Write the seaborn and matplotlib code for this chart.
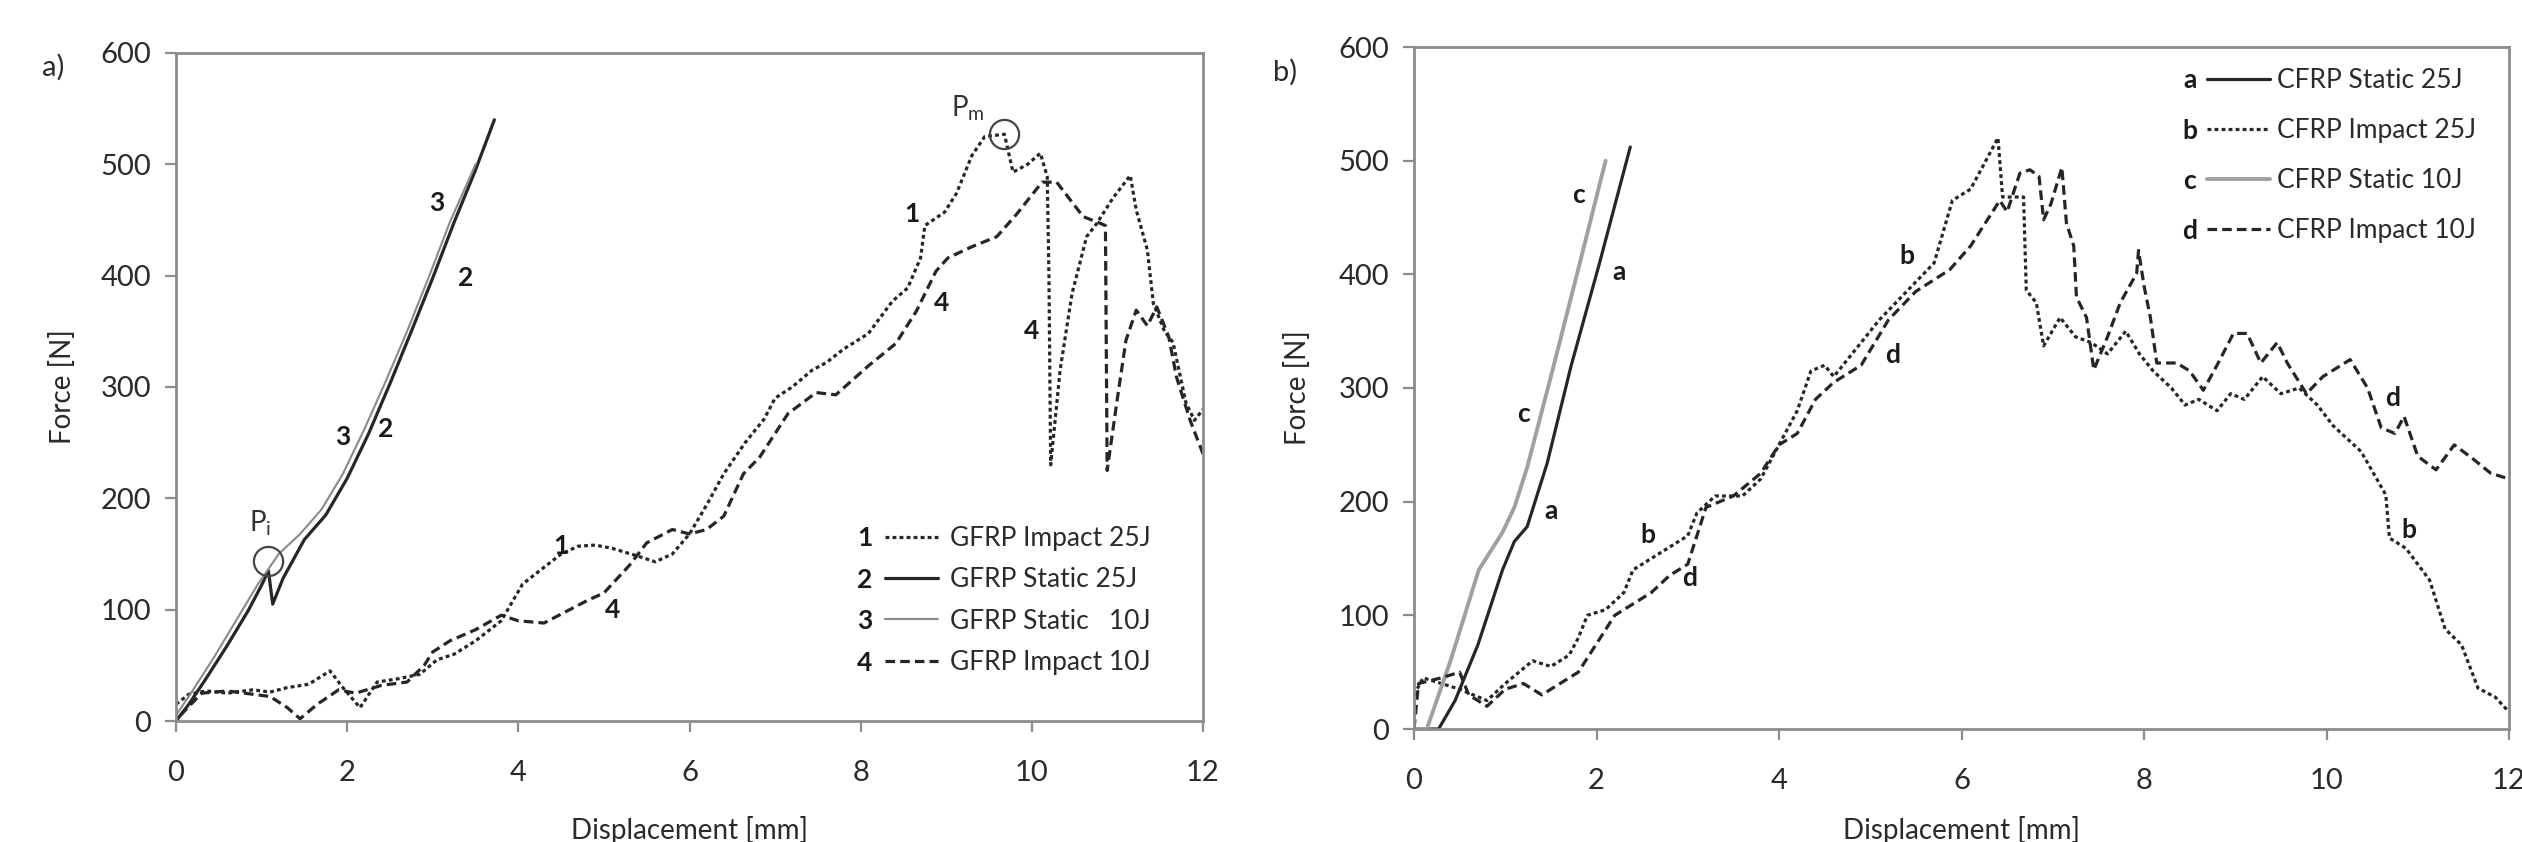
import numpy as np
import pandas as pd
import matplotlib
matplotlib.use("Agg")
import matplotlib.pyplot as plt
import seaborn as sns

sns.set_style("white")
plt.rcParams['font.family'] = ['Lato', 'DejaVu Sans']
plt.rcParams['mathtext.default'] = 'regular'

# ---------------- data: panel a) GFRP ----------------
g_imp25_x = [0, 0.15, 0.35, 0.6, 0.9, 1.1, 1.3, 1.55, 1.8, 1.95, 2.15, 2.35, 2.6, 2.85, 3.05, 3.25, 3.5, 3.8,
             4.05, 4.3, 4.5, 4.7, 4.9, 5.1, 5.4, 5.6, 5.8, 6.0, 6.2, 6.4, 6.65, 6.87, 7.0, 7.2, 7.43, 7.6, 7.8,
             8.09, 8.37, 8.55, 8.7, 8.75, 8.98, 9.12, 9.3, 9.45, 9.68, 9.78, 9.95, 10.1, 10.18, 10.2, 10.22,
             10.33, 10.47, 10.64, 10.76, 10.95, 11.15, 11.22, 11.35, 11.42, 11.55, 11.65, 11.8, 11.9, 12.0]
g_imp25_y = [15, 24, 27, 25, 28, 26, 30, 33, 45, 30, 12, 35, 38, 42, 55, 60, 72, 90,
             123, 138, 150, 157, 158, 155, 148, 143, 150, 168, 194, 222, 250, 271, 290, 300, 315, 322, 334,
             348, 377, 389, 416, 445, 457, 474, 508, 525, 527, 493, 500, 510, 489, 400, 230,
             315, 384, 435, 447, 470, 490, 459, 423, 375, 350, 340, 286, 270, 280]

g_sta25_x = [0, 0.15, 0.35, 0.6, 0.85, 1.0, 1.08, 1.13, 1.25, 1.5, 1.75, 2.0, 2.25, 2.5, 2.75, 3.0, 3.25, 3.5, 3.72]
g_sta25_y = [0, 15, 38, 68, 100, 122, 135, 105, 128, 163, 185, 218, 258, 303, 350, 398, 448, 495, 540]

g_sta10_x = [0, 0.2, 0.45, 0.7, 0.95, 1.2, 1.45, 1.7, 1.95, 2.2, 2.45, 2.7, 2.95, 3.2, 3.5]
g_sta10_y = [5, 28, 58, 90, 122, 150, 168, 190, 222, 262, 305, 350, 398, 448, 500]

g_imp10_x = [0.05, 0.3, 0.6, 0.9, 1.1, 1.3, 1.45, 1.65, 1.9, 2.1, 2.4, 2.7, 2.9, 3.0, 3.2, 3.5, 3.8, 4.0,
             4.3, 4.6, 4.8, 5.0, 5.3, 5.5, 5.8, 6.0, 6.2, 6.4, 6.63, 6.82, 7.15, 7.48, 7.71, 8.09, 8.41,
             8.65, 8.88, 9.02, 9.3, 9.59, 9.82, 10.12, 10.29, 10.6, 10.8, 10.86, 10.88, 11.0, 11.1, 11.22,
             11.35, 11.46, 11.6, 11.69, 11.85, 12.0]
g_imp10_y = [5, 25, 27, 24, 22, 12, 2, 15, 28, 25, 32, 35, 50, 62, 72, 82, 95, 90,
             88, 100, 108, 115, 140, 160, 172, 168, 172, 184, 222, 237, 276, 295, 293, 319, 339,
             368, 404, 416, 426, 435, 455, 484, 484, 453, 447, 445, 225, 290, 342, 369,
             355, 372, 345, 309, 270, 240]

# ---------------- data: panel b) CFRP ----------------
c_sta25_x = [0, 0.27, 0.45, 0.7, 0.97, 1.1, 1.24, 1.46, 1.72, 2.03, 2.37]
c_sta25_y = [0, 0, 25, 74, 140, 165, 178, 234, 319, 409, 512]

c_sta10_x = [0, 0.14, 0.4, 0.71, 0.97, 1.1, 1.24, 1.5, 1.77, 2.1]
c_sta10_y = [0, 0, 60, 140, 173, 195, 230, 310, 395, 500]

c_imp25_x = [0, 0.1, 0.3, 0.5, 0.8, 1.0, 1.3, 1.5, 1.7, 1.8, 1.9, 2.1, 2.3, 2.4, 2.6, 2.8, 3.0, 3.1, 3.3,
             3.6, 3.8, 4.0, 4.2, 4.35, 4.5, 4.6, 4.9, 5.1, 5.4, 5.7, 5.9, 6.1, 6.3, 6.4, 6.45, 6.68, 6.71,
             6.82, 6.9, 7.08, 7.25, 7.42, 7.6, 7.8, 7.95, 8.1, 8.3, 8.45, 8.6, 8.8, 8.95, 9.1, 9.3, 9.5,
             9.7, 9.9, 10.07, 10.38, 10.65, 10.69, 10.87, 11.13, 11.3, 11.48, 11.66, 11.85, 12.0]
c_imp25_y = [30, 45, 40, 35, 25, 40, 60, 55, 65, 80, 100, 105, 120, 140, 150, 160, 170, 190, 205,
             205, 220, 250, 280, 315, 320, 310, 340, 360, 385, 410, 465, 475, 505, 520, 468, 468, 386,
             375, 337, 362, 345, 340, 330, 350, 330, 315, 300, 285, 290, 280, 295, 290, 310, 295,
             300, 285, 267, 244, 206, 168, 159, 131, 88, 74, 36, 28, 15]

c_imp10_x = [0, 0.05, 0.3, 0.5, 0.6, 0.8, 1.0, 1.2, 1.4, 1.6, 1.8, 2.0, 2.2, 2.4, 2.6, 2.8, 3.0, 3.2, 3.5,
             3.8, 4.0, 4.2, 4.4, 4.6, 4.9, 5.2, 5.5, 5.87, 6.1, 6.42, 6.5, 6.64, 6.75, 6.85, 6.9, 6.98, 7.1,
             7.15, 7.23, 7.26, 7.37, 7.45, 7.6, 7.74, 7.92, 7.94, 8.0, 8.07, 8.14, 8.36, 8.5, 8.65, 8.8,
             8.98, 9.13, 9.28, 9.46, 9.57, 9.78, 9.96, 10.26, 10.45, 10.6, 10.75, 10.85, 11.0, 11.2, 11.4,
             11.6, 11.8, 12.0]
c_imp10_y = [0, 40, 45, 50, 30, 20, 35, 40, 30, 40, 50, 75, 100, 110, 120, 135, 145, 195, 205,
             225, 250, 260, 290, 305, 320, 360, 385, 404, 425, 465, 455, 489, 492, 486, 448, 462, 494,
             445, 425, 380, 362, 316, 345, 375, 401, 421, 390, 362, 322, 322, 315, 298, 320,
             348, 348, 322, 340, 322, 295, 310, 325, 300, 265, 260, 275, 240, 228, 250,
             238, 225, 220]

# legend texts and curve tags
left_legend_nums = ["1", "2", "3", "4"]
left_legend_labels = ["GFRP Impact 25J", "GFRP Static 25J", "GFRP Static   10J", "GFRP Impact 10J"]
right_legend_nums = ["a", "b", "c", "d"]
right_legend_labels = ["CFRP Static 25J", "CFRP Impact 25J", "CFRP Static 10J", "CFRP Impact 10J"]

left_tag_text = ["3", "2", "3", "2", "1", "4", "4", "1", "4"]
left_tag_x = [3.05, 3.38, 1.95, 2.45, 8.6, 8.95, 10.0, 4.5, 5.1]
left_tag_y = [465, 398, 255, 262, 455, 375, 350, 157, 100]

right_tag_text = ["c", "a", "c", "a", "b", "d", "b", "d", "d", "b"]
right_tag_x = [1.8, 2.25, 1.2, 1.5, 5.4, 5.24, 2.56, 3.02, 10.73, 10.9]
right_tag_y = [470, 402, 277, 192, 416, 329, 171, 133, 291, 175]

# marked points (circles) P_i and P_m
circle_x = [1.08, 9.68]
circle_y = [144, 527]

ticks_x = [0, 2, 4, 6, 8, 10, 12]
ticks_y = [0, 100, 200, 300, 400, 500, 600]

# ---------------- figure ----------------
W, H = 2522, 842
fig = plt.figure(figsize=(W / 100, H / 100), dpi=100)
axL = fig.add_axes([176 / W, 1 - 721 / H, (1203 - 176) / W, (721 - 53) / H])
axR = fig.add_axes([1414 / W, 1 - 729 / H, (2509 - 1414) / W, (729 - 47) / H])

DARK = '#262626'
DOT = (0, (1.2, 1.0))
DASH = (0, (3.0, 1.6))


def draw(ax, x, y, color, lw, ls):
    df = pd.DataFrame({"x": x, "y": y})
    sns.lineplot(data=df, x="x", y="y", ax=ax, sort=False, estimator=None,
                 color=color, linewidth=lw, linestyle=ls)
    return ax.lines[-1]


hL = [
    draw(axL, g_imp25_x, g_imp25_y, DARK, 2.3, DOT),
    draw(axL, g_sta25_x, g_sta25_y, DARK, 2.3, '-'),
    draw(axL, g_sta10_x, g_sta10_y, '#8a8a8a', 1.5, '-'),
    draw(axL, g_imp10_x, g_imp10_y, DARK, 2.3, DASH),
]
hR = [
    draw(axR, c_sta25_x, c_sta25_y, DARK, 2.3, '-'),
    draw(axR, c_imp25_x, c_imp25_y, DARK, 2.3, DOT),
    draw(axR, c_sta10_x, c_sta10_y, '#a0a0a0', 2.8, '-'),
    draw(axR, c_imp10_x, c_imp10_y, DARK, 2.3, DASH),
]

for ax in (axL, axR):
    ax.set_xlim(0, 12)
    ax.set_ylim(0, 600)
    ax.set_xticks(ticks_x)
    ax.set_yticks(ticks_y)
    ax.set_xticklabels([str(t) for t in ticks_x])
    ax.set_yticklabels([str(t) for t in ticks_y])
    for s in ax.spines.values():
        s.set_visible(True)
        s.set_color('#8c8c8c')
        s.set_linewidth(2.0)
    ax.tick_params(axis='both', direction='out', length=8, width=1.6, color='#8c8c8c',
                   labelsize=21, labelcolor='#2a2a2a', bottom=True, left=True, top=False, right=False)
    ax.tick_params(axis='x', pad=20)
    ax.tick_params(axis='y', pad=10)
    ax.set_xlabel("Displacement [mm]", fontsize=20, color='#2a2a2a')
    ax.set_ylabel("Force [N]", fontsize=20, color='#2a2a2a')
    ax.grid(False)

axL.xaxis.set_label_coords(0.5, (721 - 816) / 668)
axR.xaxis.set_label_coords(0.5, (729 - 816) / 682)
axL.yaxis.set_label_coords((76 - 176) / 1027, 0.5)
axR.yaxis.set_label_coords((1311 - 1414) / 1095, 0.5)

# circles
for i in range(2):
    axL.plot([circle_x[i]], [circle_y[i]], marker='o', markersize=21, markerfacecolor='none',
             markeredgecolor='#444444', markeredgewidth=1.6, linestyle='none')
axL.text(0.98, 178, "P$_{\\mathregular{i}}$", fontsize=20, color='#333333', ha='center', va='center')
axL.text(9.25, 550, "P$_{\\mathregular{m}}$", fontsize=20, color='#333333', ha='center', va='center')

for t, x, y in zip(left_tag_text, left_tag_x, left_tag_y):
    axL.text(x, y, t, fontsize=19, fontweight='bold', color='#1a1a1a', ha='center', va='center')
for t, x, y in zip(right_tag_text, right_tag_x, right_tag_y):
    axR.text(x, y, t, fontsize=19, fontweight='bold', color='#1a1a1a', ha='center', va='center')

# legends
legL = axL.legend(hL, left_legend_labels, loc='upper left', frameon=False, fontsize=19,
                  bbox_to_anchor=(885 / W, 1 - 526 / H), bbox_transform=fig.transFigure,
                  borderpad=0, borderaxespad=0, handlelength=2.0, handletextpad=0.45,
                  labelspacing=0.62)
legR = axR.legend(hR, right_legend_labels, loc='upper left', frameon=False, fontsize=19,
                  bbox_to_anchor=(2207 / W, 1 - 68 / H), bbox_transform=fig.transFigure,
                  borderpad=0, borderaxespad=0, handlelength=2.4, handletextpad=0.25,
                  labelspacing=0.95)
for leg in (legL, legR):
    for txt in leg.get_texts():
        txt.set_color('#2a2a2a')

fig.canvas.draw()
for leg, nums, xnum in ((legL, left_legend_nums, 865), (legR, right_legend_nums, 2190)):
    for txt, n in zip(leg.get_texts(), nums):
        bb = txt.get_window_extent()
        yc = (bb.y0 + bb.y1) / 2 / H
        fig.text(xnum / W, yc, n, fontsize=19, fontweight='bold', color='#1a1a1a',
                 ha='center', va='center')

fig.text(53 / W, 1 - 67 / H, "a)", fontsize=21, color='#2a2a2a', ha='center', va='center')
fig.text(1285 / W, 1 - 72 / H, "b)", fontsize=21, color='#2a2a2a', ha='center', va='center')

fig.savefig("out.png", dpi=100)
